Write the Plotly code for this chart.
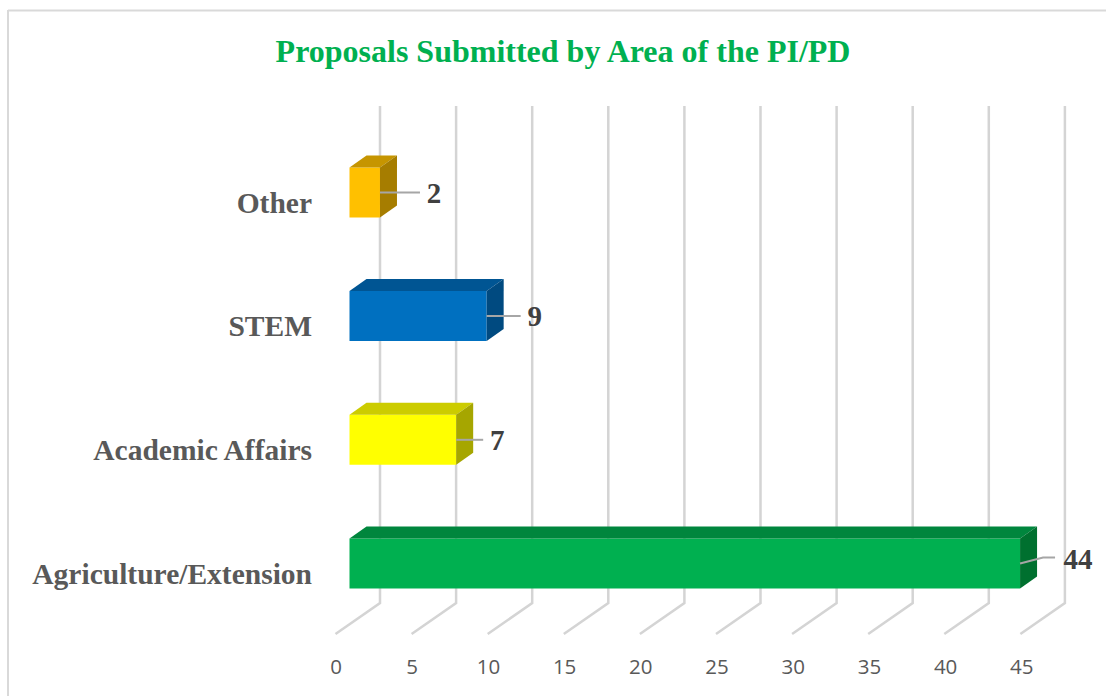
import plotly.graph_objects as go

categories = ["Agriculture/Extension", "Academic Affairs", "STEM", "Other"]
values = [44, 7, 9, 2]
front_colors = ["#00B050", "#FFFF00", "#0070C0", "#FFC000"]
top_colors = ["#00863D", "#CCCC00", "#005593", "#C69500"]
side_colors = ["#00702F", "#A6A600", "#004A80", "#A67D00"]
label_gap_px = [58, 41, 48, 54]
ticks = [0, 5, 10, 15, 20, 25, 30, 35, 40, 45]

W, H = 1106, 696
L, R, T, B = 320, 0, 90, 46
PX_X = 15.24      # px per value unit
PX_Y = 123.7      # px per category step
ZERO_X = 349.5    # px of value 0 on bar front
ZERO_Y = 563.5    # px of first category centre
BAR_PX = 50
DX, DY = 17, 12   # bar depth, px


def ux(px):
    return px / PX_X


def uy(px):
    return px / PX_Y


def xrange_for(zero):
    return [(L - zero) / PX_X, (W - R - zero) / PX_X]


def yrange_for(zero):
    return [(zero - (H - B)) / PX_Y, (zero - T) / PX_Y]


def ypx(px):  # absolute px -> y value
    return (ZERO_Y - px) / PX_Y


fig = go.Figure()

# front faces
fig.add_trace(go.Bar(
    y=list(range(len(categories))), x=values, orientation="h",
    width=uy(BAR_PX), marker=dict(color=front_colors, line=dict(width=0)),
    hoverinfo="skip", showlegend=False))

# top and side faces
hb = uy(BAR_PX) / 2
for i, v in enumerate(values):
    fig.add_trace(go.Scatter(
        x=[0, v, v + ux(DX), ux(DX), 0],
        y=[i + hb, i + hb, i + hb + uy(DY), i + hb + uy(DY), i + hb],
        mode="lines", fill="toself", fillcolor=top_colors[i],
        line=dict(width=0), hoverinfo="skip", showlegend=False))
    fig.add_trace(go.Scatter(
        x=[v, v + ux(DX), v + ux(DX), v, v],
        y=[i + hb, i + hb + uy(DY), i - hb + uy(DY), i - hb, i + hb],
        mode="lines", fill="toself", fillcolor=side_colors[i],
        line=dict(width=0), hoverinfo="skip", showlegend=False))

# leader lines
for i, v in enumerate(values):
    gap = label_gap_px[i]
    if v == max(values):
        xs = [v, v + ux(23), v + ux(35)]
        ys = [i, i + uy(6), i + uy(6)]
    else:
        xs = [v, v + ux(gap - 14)]
        ys = [i, i]
    fig.add_trace(go.Scatter(x=xs, y=ys, mode="lines",
                             line=dict(color="#A6A6A6", width=2),
                             hoverinfo="skip", showlegend=False))

# value labels
fig.add_trace(go.Scatter(
    x=[v + ux(g) for v, g in zip(values, label_gap_px)],
    y=[i + uy(2 if v == max(values) else -3) for i, v in enumerate(values)],
    mode="text", text=[str(v) for v in values], textposition="middle center",
    textfont=dict(family="Liberation Serif", size=29, color="#404040", weight="bold"),
    hoverinfo="skip", showlegend=False))

# invisible carrier trace so shifted label axes exist
fig.add_trace(go.Scatter(x=ticks, y=list(range(len(categories))) + [0] * 6,
                         xaxis="x2", yaxis="y2", mode="markers",
                         marker=dict(opacity=0), hoverinfo="skip", showlegend=False))

# walls and floor gridlines
shapes = []
for t in ticks:
    xb = t * 15.22 / PX_X + ux(30.5)
    xf = t * 15.22 / PX_X - ux(14)
    shapes.append(dict(
        type="path", xref="x", yref="y", layer="below",
        path=f"M {xb} {ypx(106)} L {xb} {ypx(603)} L {xf} {ypx(634)}",
        line=dict(color="#D4D4D4", width=2.5)))
# chart border
shapes.append(dict(type="line", xref="paper", yref="paper", layer="below",
                   x0=-(L - 8) / (W - L - R), x1=1,
                   y0=1 + (T - 10.5) / (H - T - B), y1=1 + (T - 10.5) / (H - T - B),
                   line=dict(color="#D9D9D9", width=2)))
shapes.append(dict(type="line", xref="paper", yref="paper", layer="below",
                   x0=-(L - 8) / (W - L - R), x1=-(L - 8) / (W - L - R),
                   y0=-B / (H - T - B), y1=1 + (T - 10) / (H - T - B),
                   line=dict(color="#D9D9D9", width=2)))

fig.update_layout(
    width=W, height=H, margin=dict(l=L, r=R, t=T, b=B),
    paper_bgcolor="white", plot_bgcolor="rgba(0,0,0,0)",
    showlegend=False, shapes=shapes,
    title=dict(text="<b>Proposals Submitted by Area of the PI/PD</b>",
               x=563 / W, xanchor="center", y=1 - 51 / H, yanchor="middle",
               font=dict(family="Liberation Serif", size=32, color="#00B050")),
    xaxis=dict(range=xrange_for(ZERO_X), showgrid=False, zeroline=False,
               showticklabels=False, ticks="", showline=False),
    yaxis=dict(range=yrange_for(ZERO_Y), showgrid=False, zeroline=False,
               showticklabels=False, ticks="", showline=False),
    xaxis2=dict(range=xrange_for(336), overlaying="x", side="bottom", anchor="y",
                tickmode="array", tickvals=ticks, ticktext=[str(t) for t in ticks],
                showgrid=False, zeroline=False, ticks="", showline=False,
                ticklabelstandoff=2,
                tickfont=dict(family="Open Sans", size=20.5, color="#595959")),
    yaxis2=dict(range=yrange_for(ZERO_Y + 10), overlaying="y", side="left", anchor="x",
                tickmode="array", tickvals=list(range(len(categories))),
                ticktext=categories, showgrid=False, zeroline=False, ticks="",
                showline=False, ticklabelstandoff=7,
                tickfont=dict(family="Liberation Serif", size=29.5, color="#595959",
                              weight="bold")),
)

fig.write_html("out.html", post_script="document.body.style.margin='0';",
               config={"displayModeBar": False})
